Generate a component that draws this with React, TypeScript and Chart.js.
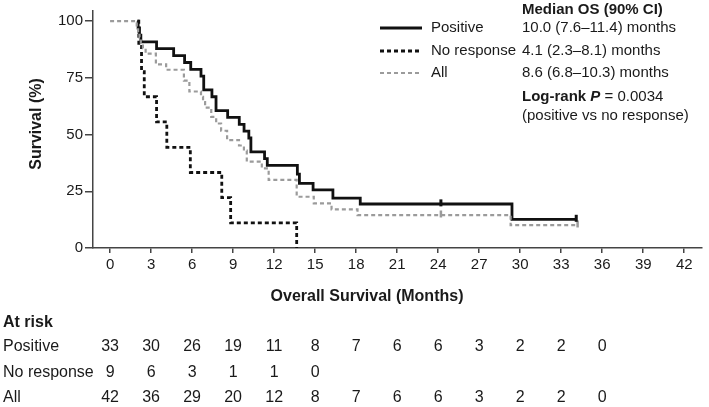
import React, { useEffect, useRef } from "react";
import { Chart, registerables } from "chart.js";

Chart.register(...registerables);

const FONT = '"Liberation Sans", Arial, Helvetica, sans-serif';

const X_TICKS = [0, 3, 6, 9, 12, 15, 18, 21, 24, 27, 30, 33, 36, 39, 42];
const Y_TICKS = [0, 25, 50, 75, 100];

const SERIES_NAMES = ["Positive", "No response", "All"];
const MEDIAN_TEXT = ["10.0 (7.6–11.4) months", "4.1 (2.3–8.1) months", "8.6 (6.8–10.3) months"];

// Kaplan–Meier step values (time in months, survival %)
const POS_T = [2.0, 2.05, 2.15, 2.25, 3.4, 4.65, 5.45, 5.9, 6.65, 6.85, 7.45, 7.75, 8.6, 9.45, 9.8, 10.15, 10.3, 11.3, 11.5, 13.7, 13.85, 14.85, 16.3, 18.3, 29.4, 34.1];
const POS_S = [100, 97.0, 93.9, 90.9, 87.9, 84.8, 81.8, 78.8, 75.8, 69.7, 66.7, 60.6, 57.6, 54.5, 51.5, 48.5, 42.4, 39.4, 36.4, 32.6, 28.5, 25.6, 22.0, 19.4, 12.6, 12.6];

const NR_T = [2.0, 2.1, 2.3, 2.5, 3.4, 4.15, 5.87, 8.17, 8.82, 13.65];
const NR_S = [100, 88.9, 77.8, 66.7, 55.6, 44.4, 33.3, 22.2, 11.1, 0];

const ALL_T = [0, 1.95, 2.05, 2.15, 2.25, 2.4, 2.6, 3.35, 4.1, 5.4, 5.8, 6.65, 6.8, 6.95, 7.4, 7.76, 8.12, 8.56, 9.43, 9.79, 10.0, 11.1, 11.6, 13.65, 14.9, 16.2, 18.1, 29.3, 34.2];
const ALL_S = [100, 97.6, 95.2, 92.9, 90.5, 88.1, 85.7, 81.0, 78.6, 73.8, 69.0, 66.7, 64.3, 61.9, 57.8, 54.9, 51.7, 47.6, 45.2, 42.9, 38.1, 35.1, 30.0, 22.6, 19.7, 17.0, 14.5, 10.1, 10.1];

const CENSOR_POS_T = [24.2, 34.1];
const CENSOR_POS_S = [19.9, 13.1];
const CENSOR_ALL_T = [24.2, 34.2];
const CENSOR_ALL_S = [15.0, 10.6];

const RISK_TIMES = [0, 3, 6, 9, 12, 15, 18, 21, 24, 27, 30, 33, 36];
const RISK_POS = [33, 30, 26, 19, 11, 8, 7, 6, 6, 3, 2, 2, 0];
const RISK_NR = [9, 6, 3, 1, 1, 0];
const RISK_ALL = [42, 36, 29, 20, 12, 8, 7, 6, 6, 3, 2, 2, 0];

const BLACK = "#111111";
const GRAY = "#9b9b9b";
const AXIS = "#444444";
const TEXT = "#1a1a1a";

const pts = (t: number[], s: number[]) => t.map((x, i) => ({ x, y: s[i] }));

const overlayPlugin = {
  id: "overlay",
  afterDraw(chart: any) {
    const ctx = chart.ctx as CanvasRenderingContext2D;
    const xs = chart.scales.x;
    ctx.save();
    ctx.fillStyle = TEXT;
    ctx.textBaseline = "middle";

    // Y title
    ctx.save();
    ctx.translate(37, 124);
    ctx.rotate(-Math.PI / 2);
    ctx.font = `bold 16px ${FONT}`;
    ctx.textAlign = "center";
    ctx.fillText("Survival (%)", 0, 0);
    ctx.restore();

    // X title
    ctx.font = `bold 16px ${FONT}`;
    ctx.textAlign = "center";
    ctx.fillText("Overall Survival (Months)", 367, 297);

    // Legend
    const rowsY = [28, 51, 73];
    const styles = [
      { color: BLACK, dash: [] as number[], width: 2.8 },
      { color: BLACK, dash: [4, 3], width: 2.8 },
      { color: GRAY, dash: [4, 3], width: 2.2 },
    ];
    rowsY.forEach((y, i) => {
      ctx.save();
      ctx.strokeStyle = styles[i].color;
      ctx.lineWidth = styles[i].width;
      ctx.setLineDash(styles[i].dash);
      ctx.beginPath();
      ctx.moveTo(380, y);
      ctx.lineTo(422, y);
      ctx.stroke();
      ctx.restore();
      ctx.font = `15px ${FONT}`;
      ctx.textAlign = "left";
      ctx.fillText(SERIES_NAMES[i], 431, y);
      ctx.fillText(MEDIAN_TEXT[i], 522, y);
    });
    ctx.textAlign = "left";
    ctx.font = `bold 15px ${FONT}`;
    ctx.fillText("Median OS (90% CI)", 522, 10);
    // Log-rank line
    let x = 522;
    const y = 97;
    ctx.font = `bold 15px ${FONT}`;
    ctx.fillText("Log-rank ", x, y);
    x += ctx.measureText("Log-rank ").width;
    ctx.font = `italic bold 15px ${FONT}`;
    ctx.fillText("P", x, y);
    x += ctx.measureText("P").width;
    ctx.font = `15px ${FONT}`;
    ctx.fillText(" = 0.0034", x, y);
    ctx.fillText("(positive vs no response)", 522, 116);

    // At risk table
    ctx.font = `bold 16px ${FONT}`;
    ctx.textAlign = "left";
    ctx.fillText("At risk", 3, 323);
    const tableRows = [
      { label: SERIES_NAMES[0], vals: RISK_POS, y: 347 },
      { label: SERIES_NAMES[1], vals: RISK_NR, y: 373 },
      { label: SERIES_NAMES[2], vals: RISK_ALL, y: 398 },
    ];
    tableRows.forEach((r) => {
      ctx.font = `16px ${FONT}`;
      ctx.textAlign = "left";
      ctx.fillText(r.label, 3, r.y);
      ctx.textAlign = "center";
      r.vals.forEach((v, i) => {
        ctx.fillText(String(v), xs.getPixelForValue(RISK_TIMES[i]), r.y);
      });
    });
    ctx.restore();
  },
};

export default function App() {
  const ref = useRef<HTMLCanvasElement | null>(null);
  useEffect(() => {
    if (!ref.current) return;
    const chart = new Chart(ref.current, {
      type: "line",
      data: {
        datasets: [
          {
            label: "All",
            data: pts(ALL_T, ALL_S),
            borderColor: GRAY,
            borderWidth: 2.2,
            borderDash: [4, 3],
            stepped: "before",
            pointRadius: 0,
            fill: false,
            order: 0,
          },
          {
            label: "Positive",
            data: pts(POS_T, POS_S),
            borderColor: BLACK,
            borderWidth: 2.8,
            stepped: "before",
            pointRadius: 0,
            fill: false,
            order: 1,
          },
          {
            label: "No response",
            data: pts(NR_T, NR_S),
            borderColor: BLACK,
            borderWidth: 2.8,
            borderDash: [4, 3],
            stepped: "before",
            pointRadius: 0,
            fill: false,
            order: 2,
          },
          {
            label: "Positive censored",
            data: pts(CENSOR_POS_T, CENSOR_POS_S),
            showLine: false,
            pointStyle: "line",
            rotation: 90,
            pointRadius: 3.5,
            pointBorderWidth: 3,
            pointBorderColor: BLACK,
            borderColor: BLACK,
            order: 0,
          },
          {
            label: "All censored",
            data: pts(CENSOR_ALL_T, CENSOR_ALL_S),
            showLine: false,
            pointStyle: "line",
            rotation: 90,
            pointRadius: 3.5,
            pointBorderWidth: 2.5,
            pointBorderColor: GRAY,
            borderColor: GRAY,
            order: 0,
          },
        ],
      },
      options: {
        responsive: false,
        animation: false,
        devicePixelRatio: 1,
        layout: { padding: { left: 0, right: 2, top: 11, bottom: 129 } },
        plugins: { legend: { display: false }, tooltip: { enabled: false } },
        scales: {
          x: {
            type: "linear",
            min: -1.25,
            max: 43.3,
            afterBuildTicks: (s: any) => {
              s.ticks = X_TICKS.map((v) => ({ value: v }));
            },
            afterFit: (s: any) => {
              s.height = 30;
            },
            grid: { drawOnChartArea: false, drawTicks: true, tickLength: 5, color: AXIS, lineWidth: 1.5 },
            border: { display: true, color: AXIS, width: 1.5 },
            ticks: { color: TEXT, font: { family: FONT, size: 15 }, padding: 3, maxRotation: 0, autoSkip: false },
          },
          y: {
            type: "linear",
            min: 0,
            max: 104.5,
            afterBuildTicks: (s: any) => {
              s.ticks = Y_TICKS.map((v) => ({ value: v }));
            },
            afterFit: (s: any) => {
              s.width = 93;
            },
            grid: { drawOnChartArea: false, drawTicks: true, tickLength: 8, color: AXIS, lineWidth: 1.5 },
            border: { display: true, color: AXIS, width: 1.5 },
            ticks: { color: TEXT, font: { family: FONT, size: 15 }, padding: 2, autoSkip: false },
          },
        },
      },
      plugins: [overlayPlugin],
    } as any);
    return () => chart.destroy();
  }, []);
  return (
    <canvas
      ref={ref}
      width={709}
      height={407}
      style={{ position: "fixed", left: 0, top: 0, display: "block", background: "#fff" }}
    />
  );
}
